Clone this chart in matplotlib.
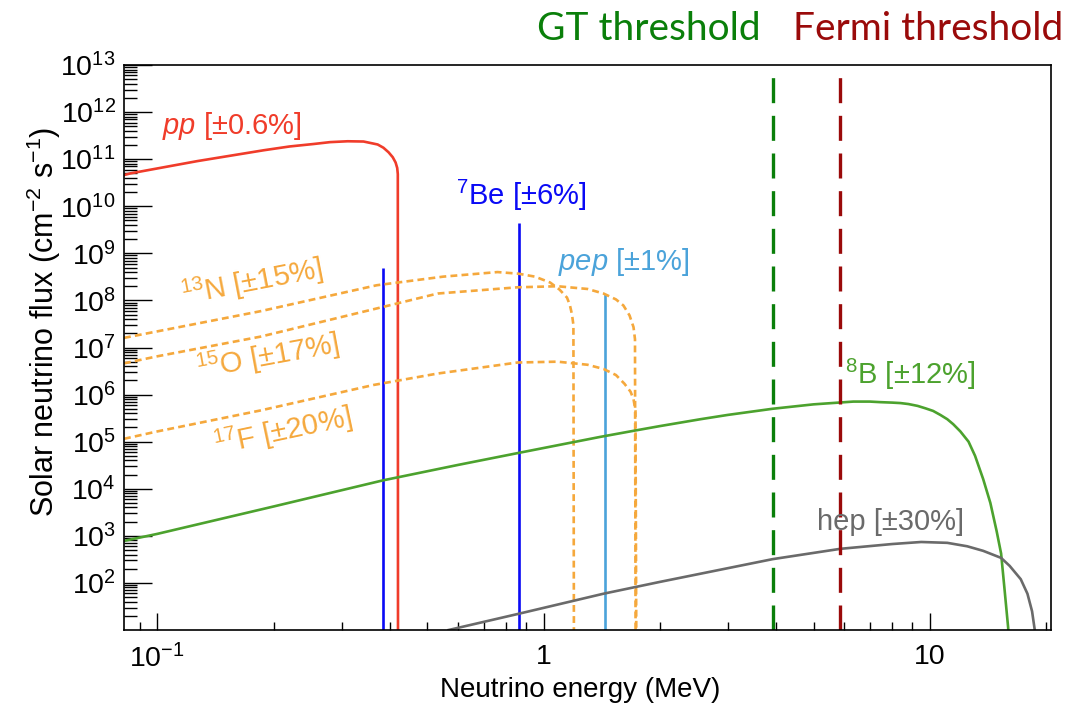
import matplotlib
matplotlib.use('Agg')
from matplotlib import pyplot as plt
from matplotlib.ticker import LogLocator, NullFormatter
import numpy as np

plt.rcParams['font.family'] = 'Liberation Sans'
plt.rcParams['mathtext.fontset'] = 'custom'
plt.rcParams['mathtext.rm'] = 'Liberation Sans'
plt.rcParams['mathtext.it'] = 'Liberation Sans:italic'

# values: energy in MeV, flux in cm^-2 s^-1
pp_E = [0.082, 0.0853, 0.127, 0.189, 0.22, 0.254, 0.28, 0.311, 0.342, 0.372, 0.385, 0.397, 0.407,
        0.414, 0.418, 0.4195, 0.420]
pp_F = [4.6e10, 5.0e10, 9.1e10, 1.55e11, 1.86e11, 2.1e11, 2.3e11, 2.4e11, 2.37e11, 2.05e11, 1.75e11,
        1.4e11, 1.1e11, 8.5e10, 6.5e10, 4.8e10, 1.0]

be7_E = [0.384, 0.862]
be7_F = [5.0e8, 4.4e9]

pep_E = [1.44]
pep_F = [1.4e8]

n13_E = [0.082, 0.10, 0.185, 0.37, 0.55, 0.76, 0.86, 0.95, 1.04, 1.10, 1.15, 1.17, 1.185, 1.195, 1.199]
n13_F = [1.6e7, 2.2e7, 5.9e7, 2.1e8, 3.2e8, 4.0e8, 3.7e8, 3.2e8, 2.4e8, 1.7e8, 1.15e8, 8.0e7, 5.0e7,
         3.0e7, 1.0]

o15_E = [0.082, 0.10, 0.185, 0.363, 0.532, 0.857, 1.087, 1.30, 1.43, 1.54, 1.61, 1.67, 1.71, 1.725, 1.732]
o15_F = [4.6e6, 6.5e6, 1.7e7, 6.5e7, 1.4e8, 1.9e8, 2.0e8, 1.75e8, 1.4e8, 1.05e8, 7.8e7, 4.8e7, 2.7e7,
         1.5e7, 1.0]

f17_E = [0.082, 0.10, 0.185, 0.363, 0.532, 0.857, 1.087, 1.30, 1.43, 1.54, 1.62, 1.68, 1.71, 1.73, 1.74]
f17_F = [1.15e5, 1.65e5, 4.6e5, 1.6e6, 2.8e6, 4.8e6, 5.0e6, 4.3e6, 3.5e6, 2.6e6, 1.7e6, 1.15e6, 8.0e5,
         4.5e5, 1.0]

b8_E = [0.082, 0.1, 0.2, 0.383, 0.6, 0.86, 1.40, 1.71, 2.0, 2.55, 3.0, 3.92, 5.0, 6.34, 7.0, 7.46, 8.0,
        8.4, 8.8, 9.3, 9.75, 10.2, 10.65, 11.1, 11.5, 12.0, 12.6, 13.1, 13.75, 14.35, 14.9, 15.3, 15.6,
        15.96, 16.1]
b8_F = [7.8e2, 1.1e3, 4.2e3, 1.5e4, 3.2e4, 5.75e4, 1.26e5, 1.7e5, 2.14e5, 3.0e5, 3.7e5, 5.0e5, 6.2e5, 7.1e5,
        7.1e5, 6.9e5, 6.75e5, 6.6e5, 6.3e5, 5.75e5, 5.1e5, 4.5e5, 3.7e5, 3.0e5, 2.35e5, 1.65e5, 1.0e5,
        5.0e4, 1.6e4, 5.0e3, 1.25e3, 4.2e2, 8.0e1, 1.1e1, 1.0]

hep_E = [0.568, 0.86, 1.43, 2.0, 3.92, 5.87, 8.0, 9.5, 11.1, 12.5, 13.75, 15.3, 16.1, 17.2, 17.9, 18.4,
         18.7, 18.8]
hep_F = [1.0e1, 2.2e1, 5.9e1, 1.05e2, 3.2e2, 5.3e2, 6.7e2, 7.4e2, 7.1e2, 6.0e2, 4.8e2, 3.4e2, 2.3e2,
         1.2e2, 5.9e1, 2.5e1, 1.0e1, 1.0]

gt_E = 3.92
fermi_E = 5.87

x_ticks = [0.1, 1, 10]
x_ticklabels = [r'$10^{-1}$', '1', '10']
y_ticks = [10.0 ** k for k in range(2, 14)]

c_pp = '#F03C2A'
c_be = '#0A0AF5'
c_pep = '#4BA3DA'
c_cno = '#F5A83C'
c_b8 = '#4CA22E'
c_hep = '#6A6A6A'
c_gt = '#0A7F0A'
c_fermi = '#9A0A0A'

fig = plt.figure(figsize=(10.71, 7.08), dpi=100)
ax = fig.add_axes([124 / 1071, 78 / 708, 927 / 1071, 565 / 708])

ax.plot(pp_E, pp_F, color=c_pp, lw=1.9)
ax.vlines(be7_E, 1.0, be7_F, color=c_be, lw=1.9)
ax.vlines(pep_E, 1.0, pep_F, color=c_pep, lw=1.9)
for e, f in [(n13_E, n13_F), (o15_E, o15_F), (f17_E, f17_F)]:
    ax.plot(e, f, color=c_cno, lw=1.9, dashes=(2.6, 1.6))
ax.plot(b8_E, b8_F, color=c_b8, lw=1.9)
ax.plot(hep_E, hep_F, color=c_hep, lw=1.9)

ax.axvline(gt_E, color=c_gt, lw=2.4, dashes=(7.5, 3.8))
ax.axvline(fermi_E, color=c_fermi, lw=2.4, dashes=(7.5, 3.8))

ax.set_xscale('log')
ax.set_yscale('log')
ax.set_xlim(0.082, 20.6)
ax.set_ylim(1e1, 1e13)

ax.set_xticks(x_ticks)
ax.set_xticklabels(x_ticklabels)
ax.xaxis.set_minor_locator(LogLocator(base=10, subs=np.arange(2, 10), numticks=100))
ax.xaxis.set_minor_formatter(NullFormatter())
ax.set_yticks(y_ticks)
ax.yaxis.set_minor_locator(LogLocator(base=10, subs=np.arange(2, 10), numticks=100))
ax.yaxis.set_minor_formatter(NullFormatter())

ax.tick_params(which='both', direction='in', top=False, right=False, width=1.0, labelsize=20.5)
ax.tick_params(axis='y', which='major', length=20, pad=6)
ax.tick_params(axis='y', which='minor', length=9.5)
ax.tick_params(axis='x', which='major', length=12, pad=10)
ax.tick_params(axis='x', which='minor', length=6)
for s in ax.spines.values():
    s.set_linewidth(1.2)

ax.set_xlabel('Neutrino energy (MeV)', fontsize=20)
ax.xaxis.set_label_coords(0.492, -0.106)
ax.set_ylabel(r'Solar neutrino flux (cm$^{-2}$ s$^{-1}$)', fontsize=22)
ax.yaxis.set_label_coords(-0.087, 0.545)
ax.xaxis.label.set_va('center')
ax.yaxis.label.set_va('center')

# curve labels
ax.text(0.103, 3.5e11, r'$pp$ [±0.6%]', color=c_pp, fontsize=21, va='baseline')
ax.text(0.595, 1.05e10, r'$^{7}$Be [±6%]', color=c_be, fontsize=21, va='baseline')
ax.text(1.09, 4.4e8, r'$pep$ [±1%]', color=c_pep, fontsize=21, va='baseline')
ax.text(6.04, 1.7e6, r'$^{8}$B [±12%]', color=c_b8, fontsize=21, va='baseline')
ax.text(5.12, 1.3e3, 'hep [±30%]', color=c_hep, fontsize=21, va='baseline')
ax.text(0.176, 2.5e8, r'$^{13}$N [±15%]', color=c_cno, fontsize=21, rotation=11,
        ha='center', va='center', rotation_mode='anchor')
ax.text(0.194, 6.5e6, r'$^{15}$O [±17%]', color=c_cno, fontsize=21, rotation=10.5,
        ha='center', va='center', rotation_mode='anchor')
ax.text(0.211, 1.7e5, r'$^{17}$F [±20%]', color=c_cno, fontsize=21, rotation=12,
        ha='center', va='center', rotation_mode='anchor')

fig.text(537 / 1071, 1 - 40 / 708, 'GT threshold', color=c_gt, fontsize=28,
         family='Lato', va='baseline', ha='left')
fig.text(1063 / 1071, 1 - 40 / 708, 'Fermi threshold', color=c_fermi, fontsize=28,
         family='Lato', va='baseline', ha='right')

fig.savefig('out.png', dpi=100)
